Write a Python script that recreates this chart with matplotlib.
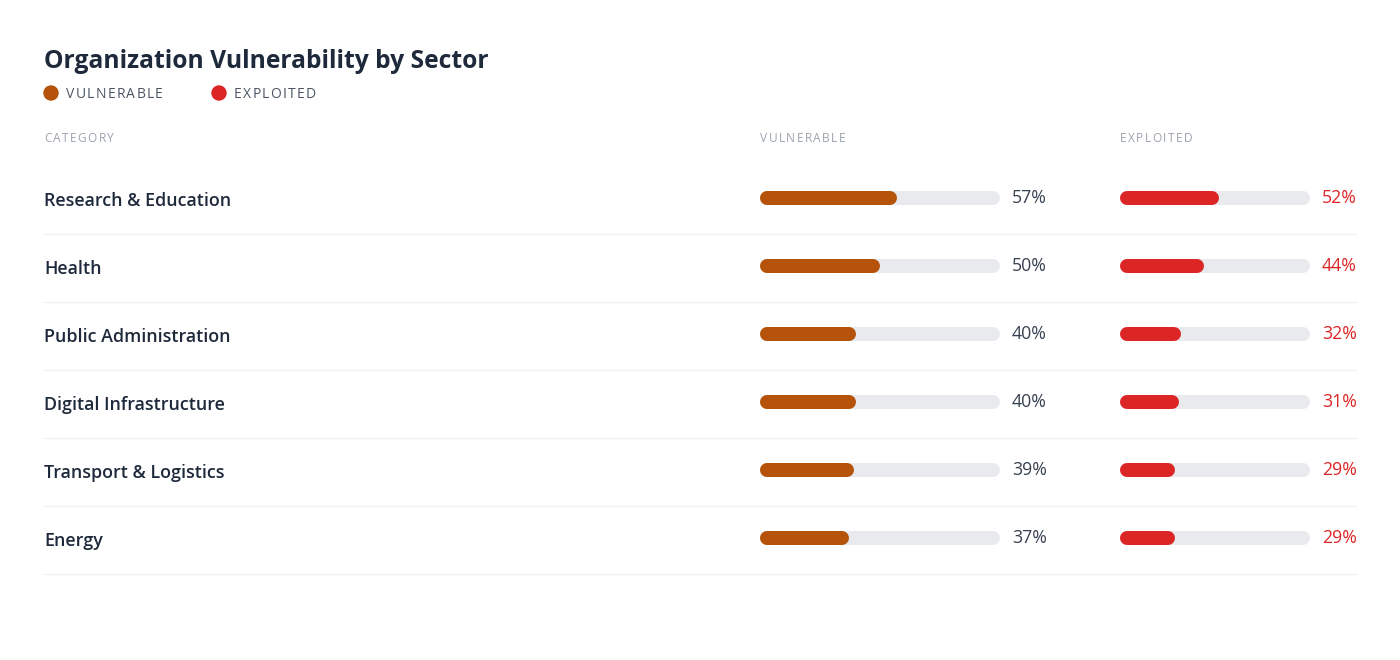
import matplotlib.pyplot as plt
from matplotlib.patches import Circle

plt.rcParams['font.family'] = ['Open Sans', 'DejaVu Sans']

# Data for the chart
categories = ['Research & Education', 'Health', 'Public Administration',
              'Digital Infrastructure', 'Transport & Logistics', 'Energy']
vulnerable = [57, 50, 40, 40, 39, 37]
exploited = [52, 44, 32, 31, 29, 29]

vul_color = '#b45309'
exp_color = '#dc2626'
track_color = '#e9eaee'

W, H = 1400, 660
fig = plt.figure(figsize=(W / 100, H / 100), dpi=100)
fig.patch.set_facecolor('white')
renderer = fig.canvas.get_renderer()

# main axes in pixel coordinates for text and layout
ax = fig.add_axes([0, 0, 1, 1])
ax.set_xlim(0, W)
ax.set_ylim(H, 0)
ax.axis('off')


def spaced_text(x, y, s, spacing, **kw):
    # matplotlib has no letter-spacing, so place the characters one by one
    for i, ch in enumerate(s):
        if i:
            t = ax.text(0, 0, s[:i], **kw)
            w = t.get_window_extent(renderer).width
            t.remove()
        else:
            w = 0
        ax.text(x + w + i * spacing, y, ch, ha='left', va='center', **kw)


# title + legend
ax.text(44, 62, 'Organization Vulnerability by Sector', fontsize=17.7,
        fontweight='bold', color='#1e293b', va='center', ha='left')
for cx, label, col in [(51, 'VULNERABLE', vul_color), (219, 'EXPLOITED', exp_color)]:
    ax.add_patch(Circle((cx, 93), 7, color=col))
    spaced_text(cx + 15, 94, label, 1.3, fontsize=10, color='#4b5563')

# column headers
for x, label in [(44, 'CATEGORY'), (760, 'VULNERABLE'), (1120, 'EXPLOITED')]:
    spaced_text(x, 138, label, 1.4, fontsize=8.6, color='#9ca3af')

row_y0 = 198
row_h = 68

# bar column axes (pixel layout, data in percent)
def column_axes(x0, width):
    cax = fig.add_axes([x0 / W, 0, width / W, 1])
    cax.set_xlim(0, 100)
    cax.set_ylim(H, 0)
    cax.axis('off')
    return cax

ax_v = column_axes(760, 240)
ax_e = column_axes(1120, 190)

bar_px = 14
lw = bar_px * 72 / 100

for cax, width, values, col in [(ax_v, 240, vulnerable, vul_color),
                                (ax_e, 190, exploited, exp_color)]:
    r = bar_px / 2 / width * 100
    for i, v in enumerate(values):
        y = row_y0 + i * row_h
        cax.plot([r, 100 - r], [y, y], color=track_color, lw=lw,
                 solid_capstyle='round')
        cax.plot([r, max(v - r, r)], [y, y], color=col, lw=lw,
                 solid_capstyle='round')

for i, (cat, v, e) in enumerate(zip(categories, vulnerable, exploited)):
    y = row_y0 + i * row_h
    ax.text(44, y + 3, cat, fontsize=12.9, fontweight='semibold', color='#1e293b',
            va='center', ha='left')
    ax.text(1012, y, f'{v}%', fontsize=12.8, color='#374151', va='center', ha='left')
    ax.text(1322, y, f'{e}%', fontsize=12.8, color=exp_color, va='center', ha='left')
    ax.plot([44, 1356], [y + 36, y + 36], color='#f0f1f3', lw=1)

fig.savefig('out.png', dpi=100, facecolor='white')
